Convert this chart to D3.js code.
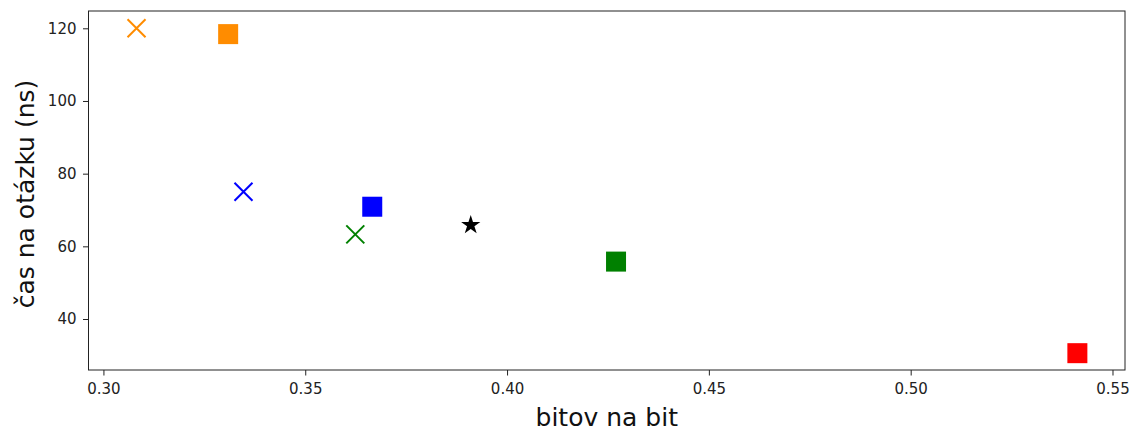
<!DOCTYPE html>
<html>
<head>
<meta charset="utf-8">
<script src="https://cdn.jsdelivr.net/npm/d3@7"></script>
<style>
  body { margin: 0; background: #fff; }
  svg { font-family: "DejaVu Sans", sans-serif; }
</style>
</head>
<body>
<div id="chart"></div>
<script>
// data
var bitsPerBit = [0.3082, 0.3309, 0.3347, 0.3666, 0.3624, 0.3910, 0.4270, 0.5413];
var nsPerQuery = [120.0, 118.4, 75.0, 70.9, 63.3, 66.1, 55.8, 30.6];
var shapes     = ["x", "square", "x", "square", "x", "star", "square", "square"];
var colors     = ["#ff8c00", "#ff8c00", "#0000ff", "#0000ff", "#008000", "#000000", "#008000", "#ff0000"];
var xTicks = [0.30, 0.35, 0.40, 0.45, 0.50, 0.55];
var yTicks = [40, 60, 80, 100, 120];

var w = 1131, h = 427;
var plotL = 88.5, plotR = 1125, plotT = 11, plotB = 370;

var x = d3.scaleLinear().domain([0.2963, 0.5531]).range([plotL, plotR]);
var y = d3.scaleLinear().domain([25.97, 124.76]).range([plotB, plotT]);

var svg = d3.select("#chart").append("svg")
  .attr("width", w)
  .attr("height", h);

// axes
var xAxis = d3.axisBottom(x).tickValues(xTicks).tickFormat(d3.format(".2f")).tickSize(5.5).tickPadding(8);
var yAxis = d3.axisLeft(y).tickValues(yTicks).tickSize(5.5).tickPadding(6.5);

var gx = svg.append("g").attr("transform", "translate(0," + plotB + ")").call(xAxis);
var gy = svg.append("g").attr("transform", "translate(" + plotL + ",0)").call(yAxis);
[gx, gy].forEach(function(g) {
  g.select(".domain").remove();
  g.attr("font-size", 15).attr("font-family", "DejaVu Sans");
  g.selectAll("text").attr("fill", "#222");
  g.selectAll("line").attr("stroke", "#222");
});

// frame
svg.append("rect")
  .attr("x", plotL).attr("y", plotT)
  .attr("width", plotR - plotL).attr("height", plotB - plotT)
  .attr("fill", "none").attr("stroke", "#222").attr("stroke-width", 1);

// points
var idx = d3.range(bitsPerBit.length);
var pts = svg.append("g");

pts.selectAll("rect")
  .data(idx.filter(function(i) { return shapes[i] == "square"; }))
  .enter()
  .append("rect")
  .attr("x", function(i) { return x(bitsPerBit[i]) - 10; })
  .attr("y", function(i) { return y(nsPerQuery[i]) - 10; })
  .attr("width", 20).attr("height", 20)
  .style("fill", function(i) { return colors[i]; });

pts.selectAll("path.cross")
  .data(idx.filter(function(i) { return shapes[i] == "x"; }))
  .enter()
  .append("path")
  .attr("class", "cross")
  .attr("d", function(i) {
    var cx = x(bitsPerBit[i]), cy = y(nsPerQuery[i]), r = 9;
    return "M" + (cx - r) + "," + (cy - r) + "L" + (cx + r) + "," + (cy + r) +
           "M" + (cx - r) + "," + (cy + r) + "L" + (cx + r) + "," + (cy - r);
  })
  .attr("stroke", function(i) { return colors[i]; })
  .attr("stroke-width", 2)
  .attr("fill", "none");

pts.selectAll("path.star")
  .data(idx.filter(function(i) { return shapes[i] == "star"; }))
  .enter()
  .append("path")
  .attr("class", "star")
  .attr("transform", function(i) { return "translate(" + x(bitsPerBit[i]) + "," + (y(nsPerQuery[i]) + 1) + ")"; })
  .attr("d", d3.symbol().type(d3.symbolStar).size(115))
  .style("fill", function(i) { return colors[i]; });

// axis labels
svg.append("text")
  .attr("x", (plotL + plotR) / 2)
  .attr("y", 426)
  .attr("text-anchor", "middle")
  .attr("font-size", 25)
  .attr("fill", "#111")
  .text("bitov na bit");

svg.append("text")
  .attr("transform", "translate(34,194) rotate(-90)")
  .attr("text-anchor", "middle")
  .attr("font-size", 25)
  .attr("fill", "#111")
  .text("čas na otázku (ns)");
</script>
</body>
</html>
